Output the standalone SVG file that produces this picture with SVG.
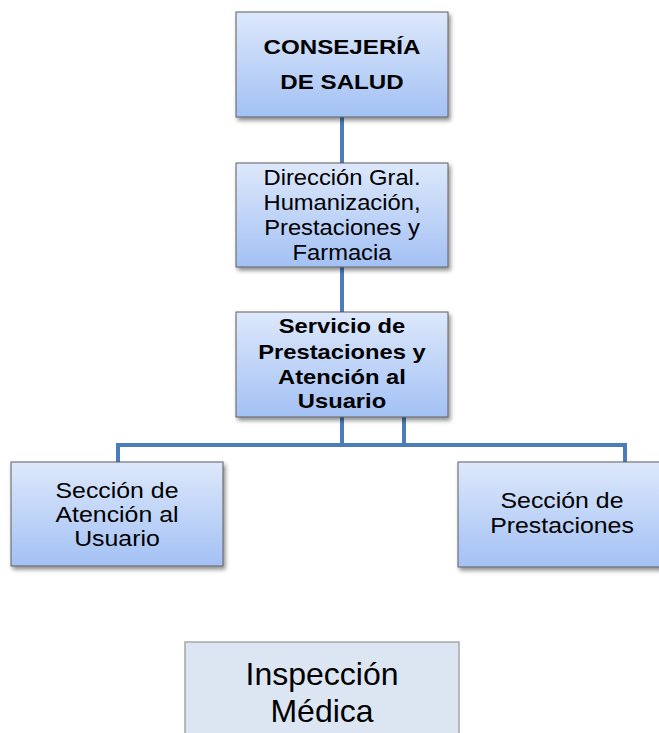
<svg xmlns="http://www.w3.org/2000/svg" width="659" height="733" viewBox="0 0 659 733">
<defs>
<linearGradient id="blue" x1="0" y1="0" x2="0" y2="1">
<stop offset="0" stop-color="#dde8fb"/>
<stop offset="1" stop-color="#a3c1f4"/>
</linearGradient>
<filter id="sh" x="-10%" y="-10%" width="125%" height="130%">
<feDropShadow dx="2" dy="3" stdDeviation="2" flood-color="#000" flood-opacity="0.45"/>
</filter>
<style>
.box{fill:url(#blue);stroke:#5f5f5f;stroke-width:1;filter:url(#sh)}
.plain{fill:#dce6f2;stroke:#a6a6a6;stroke-width:1.5}
.t{font-family:"Liberation Sans",Arial,sans-serif;font-size:22px;fill:#000;text-anchor:middle}
.b{font-weight:bold;font-size:21px}
.big{font-size:32px}
.c{fill:none;stroke:#4a7dba;stroke-width:4}
</style>
</defs>
<rect width="659" height="733" fill="#fff"/>
<g id="connectors">
<line class="c" x1="342" y1="117" x2="342" y2="163"/>
<line class="c" x1="342" y1="267" x2="342" y2="312"/>
<polyline class="c" points="342,417 342,445"/>
<polyline class="c" points="404,417 404,445"/>
<polyline class="c" points="118,462 118,445 625,445 625,462"/>
</g>
<g id="consejeria">
<rect class="box" x="236" y="12" width="212" height="105"/>
<g transform="translate(342 0) scale(1.15 1)">
<text class="t b" x="0" y="54">CONSEJERÍA</text>
<text class="t b" x="0" y="89">DE SALUD</text>
</g>
</g>
<g id="direccion">
<rect class="box" x="236" y="163" width="212" height="104"/>
<g transform="translate(342 0) scale(1.08 1)">
<text class="t" x="0" y="185">Dirección Gral.</text>
<text class="t" x="0" y="210">Humanización,</text>
<text class="t" x="0" y="235">Prestaciones y</text>
<text class="t" x="0" y="260">Farmacia</text>
</g>
</g>
<g id="servicio">
<rect class="box" x="236" y="312" width="212" height="105"/>
<g transform="translate(342 0) scale(1.13 1)">
<text class="t b" x="0" y="333">Servicio de</text>
<text class="t b" x="0" y="359">Prestaciones y</text>
<text class="t b" x="0" y="384">Atención al</text>
<text class="t b" x="0" y="408">Usuario</text>
</g>
</g>
<g id="seccion-atencion">
<rect class="box" x="11" y="462" width="212" height="104"/>
<g transform="translate(117 0) scale(1.13 1)">
<text class="t" x="0" y="498">Sección de</text>
<text class="t" x="0" y="522">Atención al</text>
<text class="t" x="0" y="546">Usuario</text>
</g>
</g>
<g id="seccion-prestaciones">
<rect class="box" x="458" y="462" width="212" height="105"/>
<g transform="translate(562 0) scale(1.13 1)">
<text class="t" x="0" y="508">Sección de</text>
<text class="t" x="0" y="533">Prestaciones</text>
</g>
</g>
<g id="inspeccion">
<rect class="plain" x="185" y="642" width="274" height="100"/>
<text class="t big" x="322" y="685">Inspección</text>
<text class="t big" x="322" y="722">Médica</text>
</g>
</svg>
